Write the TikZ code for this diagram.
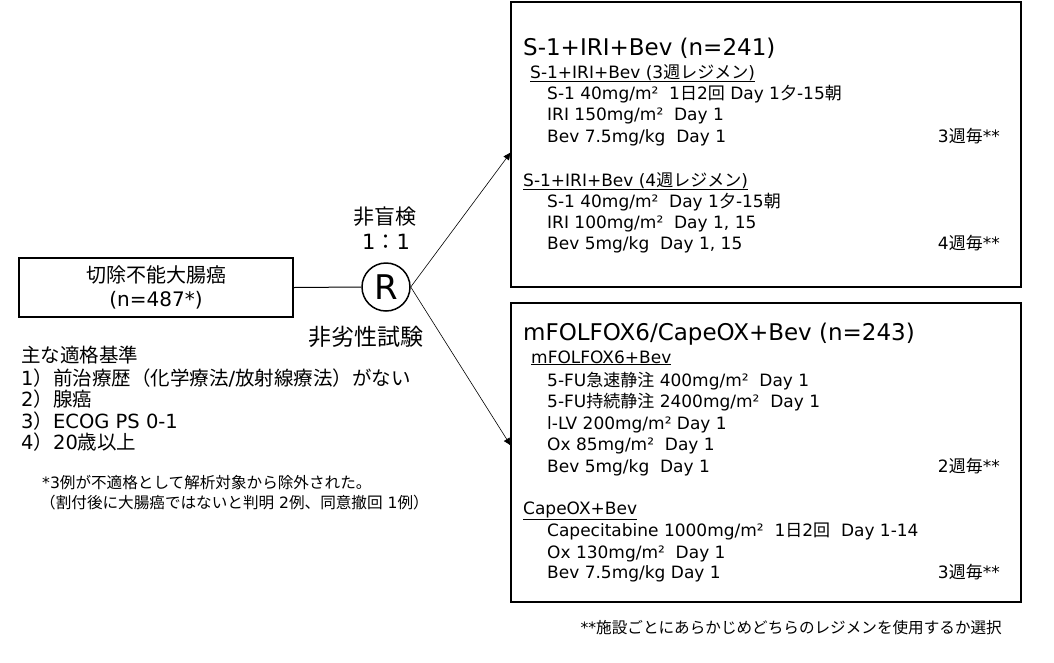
\documentclass[tikz,border=0pt]{standalone}
\usepackage{fontspec}
\setmainfont{DejaVu Sans}
\newfontfamily\jpfont{Noto Sans CJK JP}
\usetikzlibrary{arrows.meta}
\XeTeXinterchartokenstate=1
\newXeTeXintercharclass\jpcls
\newcount\jpc
\jpc="3000 \loop\ifnum\jpc<"A000 \XeTeXcharclass\jpc=\jpcls \advance\jpc by 1 \repeat
\jpc="FF00 \loop\ifnum\jpc<"FFF0 \XeTeXcharclass\jpc=\jpcls \advance\jpc by 1 \repeat
\XeTeXinterchartoks 0 \jpcls = {\begingroup\jpfont}
\XeTeXinterchartoks 4095 \jpcls = {\begingroup\jpfont}
\XeTeXinterchartoks \jpcls 0 = {\endgroup}
\XeTeXinterchartoks \jpcls 4095 = {\endgroup}
\begin{document}
\begin{tikzpicture}[x=1pt,y=-1pt,
    armbox/.style = {draw, line width=2pt, inner sep=0pt},
    line/.style = {anchor=base west, inner sep=0pt, font=\fontsize{17}{20}\selectfont},
    cycle/.style = {anchor=base east, inner sep=0pt, font=\fontsize{17}{20}\selectfont},
    title/.style = {anchor=base west, inner sep=0pt, font=\fontsize{23}{27}\selectfont},
    crit/.style = {anchor=base west, inner sep=0pt, font=\fontsize{19.5}{22}\selectfont},
    note/.style = {anchor=base west, inner sep=0pt, font=\fontsize{15.6}{18}\selectfont},
    arm/.style = {-{Latex[length=8pt,width=7pt]}, line width=0.6pt}]
  \useasboundingbox (0,0) rectangle (1054,662);
  \node[armbox, minimum width=274, minimum height=59, align=center,
    font=\fontsize{20}{24}\selectfont] (pop) at (156,287.5) {切除不能大腸癌\\(n=487*)};
  \node[circle, draw, line width=1.5pt, minimum size=48, inner sep=0pt,
    font=\fontsize{34}{34}\selectfont] (R) at (386,287) {R};
  \node[font=\fontsize{21}{24}\selectfont, inner sep=0pt] (blind) at (385,217) {非盲検};
  \node[font=\fontsize{21}{24}\selectfont, inner sep=0pt] (ratio) at (386,242) {1：1};
  \node[font=\fontsize{23}{26}\selectfont, inner sep=0pt] (noninf) at (366,337) {非劣性試験};
  \node[armbox, minimum width=510, minimum height=285] (armA) at (766,144.5) {};
  \node[armbox, minimum width=510, minimum height=299] (armB) at (766,452.5) {};
  \coordinate (tipA) at (511,152);
  \coordinate (tipB) at (511,446);
  \draw[line width=1pt] (pop.east) -- (R.west);
  \draw[arm] (R.east) -- (tipA);
  \draw[arm] (R.east) -- (tipB);
  % eligibility
  \node[crit] (c0) at (21,362) {主な適格基準};
  \node[crit] (c1) at (21,385) {1）前治療歴（化学療法/放射線療法）がない};
  \node[crit] (c2) at (21,406) {2）腺癌};
  \node[crit] (c3) at (21,428) {3）ECOG PS 0-1};
  \node[crit] (c4) at (21,449) {4）20歳以上};
  \node[note] (n1) at (42,488) {*3例が不適格として解析対象から除外された。};
  \node[note] (n2) at (40,508) {（割付後に大腸癌ではないと判明 2例、同意撤回 1例）};
  % arm A
  \node[title] (a0) at (523,55) {S-1+IRI+Bev (n=241)};
  \node[line] (a1) at (530,78) {\underline{S-1+IRI+Bev (3週レジメン)}};
  \node[line] (a2) at (547,99) {S-1 40mg/m²~ 1日2回 Day 1夕-15朝};
  \node[line] (a3) at (547,120) {IRI 150mg/m²~ Day 1};
  \node[line] (a4) at (547,142) {Bev 7.5mg/kg~ Day 1};
  \node[cycle] (a5) at (1000,142) {3週毎**};
  \node[line] (a6) at (523,186) {\underline{S-1+IRI+Bev (4週レジメン)}};
  \node[line] (a7) at (547,207) {S-1 40mg/m²~ Day 1夕-15朝};
  \node[line] (a8) at (547,228) {IRI 100mg/m²~ Day 1, 15};
  \node[line] (a9) at (547,249) {Bev 5mg/kg~ Day 1, 15};
  \node[cycle] (a10) at (1000,249) {4週毎**};
  % arm B
  \node[title] (b0) at (523,340) {mFOLFOX6/CapeOX+Bev (n=243)};
  \node[line] (b1) at (531,363) {\underline{mFOLFOX6+Bev}};
  \node[line] (b2) at (547,386) {5-FU急速静注 400mg/m²~ Day 1};
  \node[line] (b3) at (547,407) {5-FU持続静注 2400mg/m²~ Day 1};
  \node[line] (b4) at (547,429) {l-LV 200mg/m² Day 1};
  \node[line] (b5) at (547,450) {Ox 85mg/m²~ Day 1};
  \node[line] (b6) at (547,472) {Bev 5mg/kg~ Day 1};
  \node[cycle] (b7) at (1000,472) {2週毎**};
  \node[line] (b8) at (523,514) {\underline{CapeOX+Bev}};
  \node[line] (b9) at (547,536) {Capecitabine 1000mg/m²~ 1日2回~ Day 1-14};
  \node[line] (b10) at (547,558) {Ox 130mg/m²~ Day 1};
  \node[line] (b11) at (547,578) {Bev 7.5mg/kg Day 1};
  \node[cycle] (b12) at (1000,578) {3週毎**};
  \node[note, anchor=base east] (foot) at (1002,633) {**施設ごとにあらかじめどちらのレジメンを使用するか選択};
\end{tikzpicture}
\end{document}
